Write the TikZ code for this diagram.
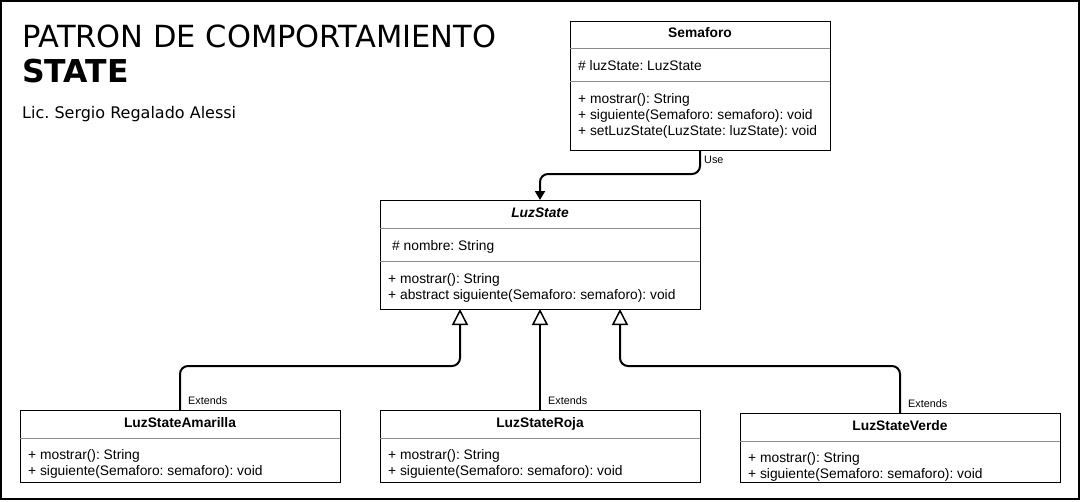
\documentclass[tikz,border=0pt]{standalone}
\usepackage{fontspec}
\setmainfont{Liberation Sans}
\newfontfamily\titlefont{DejaVu Sans}
\usetikzlibrary{arrows.meta}
\frenchspacing
\tikzset{
  umlbox/.style={draw=black, line width=1pt, fill=white, inner sep=0pt, outer sep=0pt, anchor=north west},
  sepline/.style={draw=black!45, line width=1pt},
  txt/.style={anchor=base west, inner sep=0pt, font=\fontsize{13.8}{16}\selectfont},
  hdr/.style={anchor=base, inner sep=0pt, font=\fontsize{13.8}{16}\selectfont\bfseries},
  elabel/.style={anchor=base west, inner sep=0pt, font=\fontsize{10.8}{12}\selectfont},
  conn/.style={line width=2pt, rounded corners=8pt},
  ext/.style={conn, -{Triangle[open, length=16pt, width=16pt, line width=1.5pt]}},
  usearrow/.style={conn, -{Triangle[length=9pt, width=10pt]}}
}
\begin{document}
\begin{tikzpicture}[x=1pt, y=-1pt]
\useasboundingbox (0,0) rectangle (1081,501);
\fill[white] (0,0) rectangle (1081,501);
\draw[line width=1.2pt] (1,1) rectangle (1079,499);

% Title
\node[anchor=base west, inner sep=0pt, font=\titlefont\fontsize{30.5}{32}\selectfont] (t1) at (22,47) {PATRON DE COMPORTAMIENTO};
\node[anchor=base west, inner sep=0pt, font=\titlefont\fontsize{31.5}{32}\selectfont\bfseries] (t2) at (22,82) {STATE};
\node[anchor=base west, inner sep=0pt, font=\titlefont\fontsize{16}{18}\selectfont] (t3) at (22,118) {Lic. Sergio Regalado Alessi};

% Semaforo
\node[umlbox, minimum width=260pt, minimum height=129pt] (sem) at (570,21) {};
\draw[sepline] (570,48) -- (830,48);
\draw[sepline] (570,81) -- (830,81);
\node[hdr] (semh) at (700,37) {Semaforo};
\node[txt] (sema) at (578,70) {\# luzState: LuzState};
\node[txt] (semm1) at (578,103) {+ mostrar(): String};
\node[txt] (semm2) at (578,119) {+ siguiente(Semaforo: semaforo): void};
\node[txt] (semm3) at (578,135) {+ setLuzState(LuzState: luzState): void};

% LuzState
\node[umlbox, minimum width=320pt, minimum height=109pt] (luz) at (380,200) {};
\draw[sepline] (380,228) -- (700,228);
\draw[sepline] (380,261) -- (700,261);
\node[hdr, font=\fontsize{13.8}{16}\selectfont\bfseries\itshape] (luzh) at (540,217) {LuzState};
\node[txt] (luza) at (392,250) {\# nombre: String};
\node[txt] (luzm1) at (388,283) {+ mostrar(): String};
\node[txt] (luzm2) at (388,299) {+ abstract siguiente(Semaforo: semaforo): void};

% LuzStateAmarilla
\node[umlbox, minimum width=320pt, minimum height=72pt] (ama) at (20,410) {};
\draw[sepline] (20,438) -- (340,438);
\node[hdr] (amah) at (180,427) {LuzStateAmarilla};
\node[txt] (amam1) at (28,459) {+ mostrar(): String};
\node[txt] (amam2) at (28,475) {+ siguiente(Semaforo: semaforo): void};

% LuzStateRoja
\node[umlbox, minimum width=320pt, minimum height=72pt] (roj) at (380,410) {};
\draw[sepline] (380,438) -- (700,438);
\node[hdr] (rojh) at (540,427) {LuzStateRoja};
\node[txt] (rojm1) at (388,459) {+ mostrar(): String};
\node[txt] (rojm2) at (388,475) {+ siguiente(Semaforo: semaforo): void};

% LuzStateVerde
\node[umlbox, minimum width=320pt, minimum height=69pt] (ver) at (740,413) {};
\draw[sepline] (740,441) -- (1060,441);
\node[hdr] (verh) at (900,430) {LuzStateVerde};
\node[txt] (verm1) at (748,462) {+ mostrar(): String};
\node[txt] (verm2) at (748,478) {+ siguiente(Semaforo: semaforo): void};

% connector anchor points
\coordinate (p1) at (460,309);
\coordinate (p3) at (620,309);

% connectors
\draw[usearrow] (sem.south) -- ++(0,24) -| (luz.north);
\node[elabel] (use) at (704,163) {Use};

\draw[ext] (ama.north) -- ++(0,-44) -| (p1);
\node[elabel] (e1) at (188,404) {Extends};

\draw[ext] (roj.north) -- (luz.south);
\node[elabel] (e2) at (548,404) {Extends};

\draw[ext] (ver.north) -- ++(0,-47) -| (p3);
\node[elabel] (e3) at (908,407) {Extends};
\end{tikzpicture}
\end{document}
